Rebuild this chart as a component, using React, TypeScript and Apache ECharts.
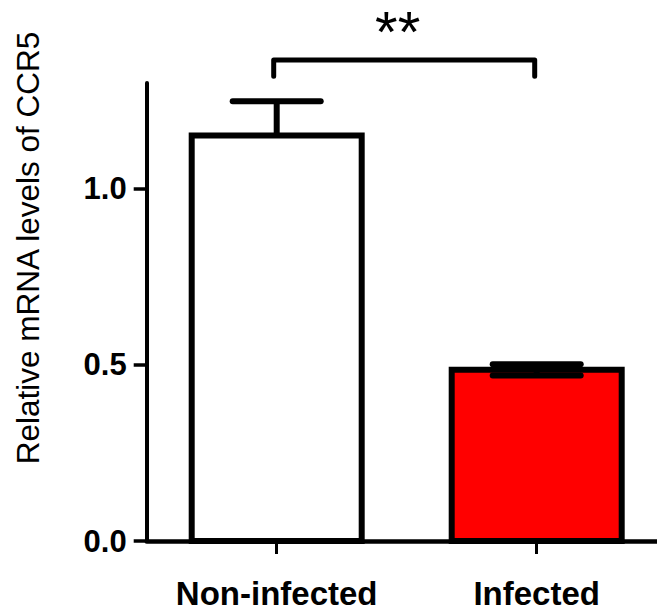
import React, { useEffect, useRef } from "react";
import * as echarts from "echarts";

const categories = ["Non-infected", "Infected"];
const means = [1.151, 0.486];
const errUp = [0.097, 0.016];
const errDown = [0, 0.016];
const barColors = ["#ffffff", "#ff0000"];
const yTicks = [0, 0.5, 1.0];
const yTitle = "Relative mRNA levels of CCR5";
const sigPair = [0, 1];
const sigLevels = [1.365, 1.319, 1.447]; // bracket line, bracket ends, label
const sigText = "**";

const FONT = "'Liberation Sans', Arial, sans-serif";

export default function App() {
  const ref = useRef<HTMLDivElement>(null);
  useEffect(() => {
    if (!ref.current) return;
    const chart = echarts.init(ref.current, null, { renderer: "svg" });
    const errData = categories.map((_, i) => [i, means[i], errUp[i], errDown[i]]);
    const barData = categories.map((_, i) => [i, means[i]]);
    chart.setOption({
      animation: false,
      backgroundColor: "#ffffff",
      grid: { left: 146.7, top: 83, width: 520, height: 458, containLabel: false },
      graphic: [
        {
          type: "text",
          x: 28,
          y: 248,
          rotation: Math.PI / 2,
          style: {
            text: yTitle,
            fontSize: 31.5,
            fontFamily: FONT,
            fill: "#000",
            align: "center",
            verticalAlign: "middle",
          },
        },
      ],
      xAxis: {
        type: "category",
        data: categories,
        boundaryGap: true,
        axisLine: { show: true, lineStyle: { color: "#000", width: 4.5 } },
        axisTick: { show: true, interval: 0, alignWithLabel: true, length: 13, lineStyle: { color: "#000", width: 3 } },
        axisLabel: { interval: 0, color: "#000", fontSize: 33, fontWeight: "bold", fontFamily: FONT, margin: 36 },
        splitLine: { show: false },
      },
      yAxis: {
        type: "value",
        min: 0,
        max: 1.3,
        axisLine: { show: true, lineStyle: { color: "#000", width: 4 } },
        axisTick: { show: true, length: 13, customValues: yTicks, lineStyle: { color: "#000", width: 3.5 } },
        axisLabel: {
          color: "#000",
          fontSize: 31,
          fontWeight: "bold",
          fontFamily: FONT,
          margin: 20,
          customValues: yTicks,
          formatter: (v: number) => v.toFixed(1),
        },
        splitLine: { show: false },
      },
      series: [
        {
          type: "custom",
          name: "Bars",
          clip: false,
          z: 2,
          data: barData,
          renderItem: (params: any, api: any) => {
            const x = api.value(0);
            const v = api.value(1);
            const top = api.coord([x, v]);
            const base = api.coord([x, 0]);
            const w = 170;
            return {
              type: "rect",
              shape: { x: top[0] - w / 2, y: top[1], width: w, height: base[1] - top[1] },
              style: { fill: barColors[params.dataIndex], stroke: "#000", lineWidth: 6 },
            };
          },
        },
        {
          type: "custom",
          clip: false,
          z: 3,
          data: errData,
          renderItem: (params: any, api: any) => {
            const x = api.value(0);
            const m = api.value(1);
            const up = api.value(2);
            const dn = api.value(3);
            const top = api.coord([x, m + up]);
            const bot = api.coord([x, m - dn]);
            const half = 44;
            const style = { stroke: "#000", lineWidth: 6, lineCap: "round" };
            const children: any[] = [
              { type: "line", shape: { x1: top[0], y1: top[1], x2: bot[0], y2: bot[1] }, style: { stroke: "#000", lineWidth: 6 } },
              { type: "line", shape: { x1: top[0] - half, y1: top[1], x2: top[0] + half, y2: top[1] }, style },
            ];
            if (dn > 0) {
              children.push({ type: "line", shape: { x1: bot[0] - half, y1: bot[1], x2: bot[0] + half, y2: bot[1] }, style });
            }
            return { type: "group", children };
          },
        },
        {
          type: "custom",
          clip: false,
          z: 3,
          data: [[sigPair[0], sigPair[1], sigLevels[0], sigLevels[1], sigLevels[2]]],
          renderItem: (params: any, api: any) => {
            const a = api.value(0);
            const b = api.value(1);
            const yl = api.value(2);
            const ye = api.value(3);
            const yt = api.value(4);
            const pA0 = api.coord([a, ye]);
            const pA1 = api.coord([a, yl]);
            const pB1 = api.coord([b, yl]);
            const pB0 = api.coord([b, ye]);
            const t = api.coord([a, yt]);
            const midX = (pA1[0] + pB1[0]) / 2;
            return {
              type: "group",
              children: [
                {
                  type: "polyline",
                  shape: { points: [[pA0[0] - 3, pA0[1]], [pA1[0] - 3, pA1[1]], [pB1[0] - 2, pB1[1]], [pB0[0] - 2, pB0[1]]] },
                  style: { stroke: "#000", lineWidth: 5, fill: "none", lineJoin: "round", lineCap: "round" },
                },
                {
                  type: "text",
                  x: midX - 9,
                  y: t[1],
                  style: {
                    text: sigText,
                    fontSize: 58,
                    fontFamily: FONT,
                    fill: "#000",
                    align: "center",
                    verticalAlign: "middle",
                  },
                },
              ],
            };
          },
        },
      ],
    });
    return () => chart.dispose();
  }, []);
  return (
    <div
      ref={ref}
      style={{ position: "fixed", left: 0, top: 0, width: 700, height: 613, background: "#fff" }}
    />
  );
}
